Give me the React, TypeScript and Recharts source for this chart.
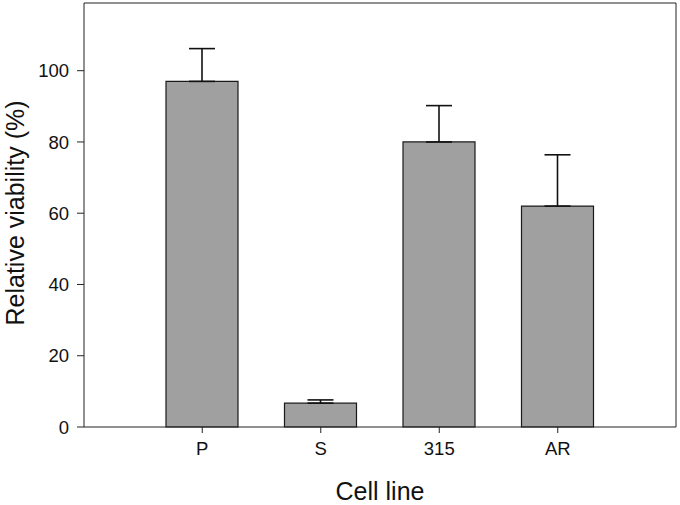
import React from "react";
import { BarChart, Bar, XAxis, YAxis, ErrorBar, CartesianGrid } from "recharts";

const categories = ["P", "S", "315", "AR"];
const viability = [97, 6.7, 80, 62];
const errorUp = [9.2, 0.9, 10.2, 14.4];
const yTicks = [0, 20, 40, 60, 80, 100];

const data = categories.map((c, i) => ({
  name: c,
  value: viability[i],
  err: [0, errorUp[i]],
}));

const FONT = "'Liberation Sans', Arial, sans-serif";

const YLabel = () => (
  <text
    x={24}
    y={213}
    transform="rotate(-90, 24, 213)"
    textAnchor="middle"
    fontSize={25}
    fontFamily={FONT}
    fill="#111"
  >
    Relative viability (%)
  </text>
);

export default function App() {
  return (
    <div style={{ position: "absolute", left: 0, top: 0, background: "#fff" }}>
      <BarChart
        width={680}
        height={505}
        data={data}
        margin={{ top: 3, right: 4, left: 0, bottom: 0 }}
      >
        <CartesianGrid
          stroke="#222"
          strokeWidth={1}
          horizontalCoordinatesGenerator={(p: any) => [p.offset.top]}
          verticalCoordinatesGenerator={(p: any) => [p.offset.left + p.offset.width]}
        />
        <XAxis
          dataKey="name"
          height={78}
          padding={{ left: 59, right: 59 }}
          tickSize={6}
          tickMargin={9}
          stroke="#222"
          tick={{ fill: "#111", fontSize: 18.5, fontFamily: FONT }}
          label={{
            value: "Cell line",
            position: "insideBottom",
            offset: 5,
            fontSize: 25,
            fontFamily: FONT,
            fill: "#111",
          }}
        />
        <YAxis
          width={84}
          domain={[0, 119]}
          ticks={yTicks}
          tickSize={7}
          tickMargin={8}
          stroke="#222"
          tick={{ fill: "#111", fontSize: 18.5, fontFamily: FONT }}
          label={<YLabel />}
        />
        <Bar
          dataKey="value"
          barSize={72}
          fill="#a0a0a0"
          stroke="#1a1a1a"
          strokeWidth={1.2}
          isAnimationActive={false}
        >
          <ErrorBar
            dataKey="err"
            width={13}
            stroke="#111"
            strokeWidth={1.6}
            direction="y"
            isAnimationActive={false}
          />
        </Bar>
      </BarChart>
    </div>
  );
}
